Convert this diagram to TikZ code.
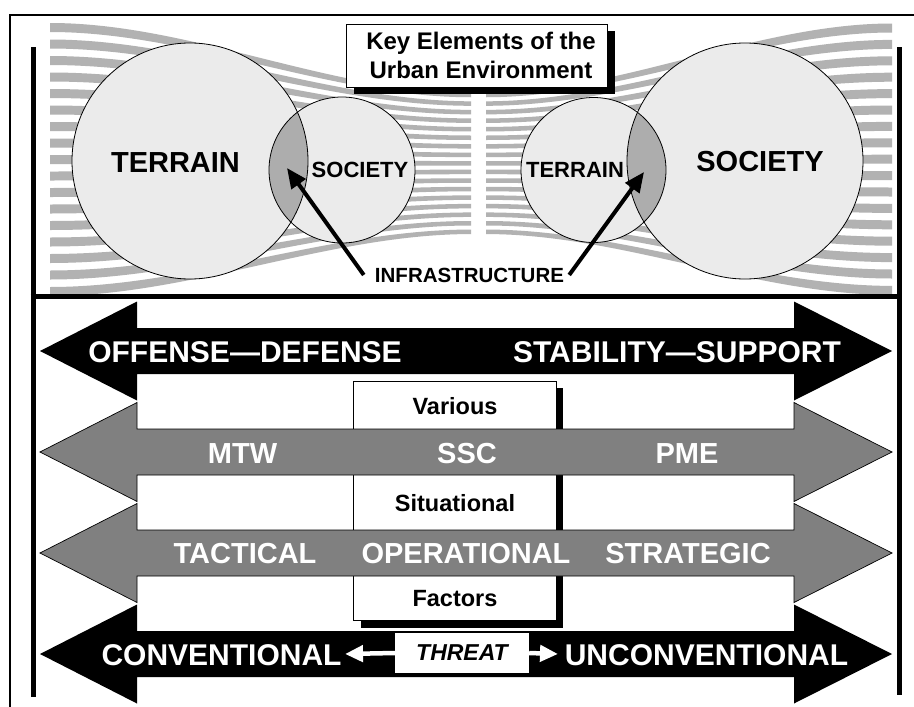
\documentclass[tikz,border=0pt]{standalone}
\usepackage{fontspec}
\setmainfont{Liberation Sans}
\usetikzlibrary{arrows.meta}
\definecolor{stripegray}{gray}{0.70}
\definecolor{circfill}{gray}{0.92}
\definecolor{lensgray}{gray}{0.68}
\definecolor{arrgray}{gray}{0.50}
\newcommand{\BigDblArrow}[2]{\path[#2] (40,#1) -- (137,#1-49.5) -- (137,#1-23) -- (794,#1-23) -- (794,#1-49.5) -- (892,#1) -- (794,#1+49.5) -- (794,#1+23) -- (137,#1+23) -- (137,#1+49.5) -- cycle;}
\begin{document}
\begin{tikzpicture}[x=1pt,y=-1pt,
  arrtxt/.style={text=white, font=\bfseries\fontsize{29}{34}\selectfont, inner sep=0pt, anchor=base},
  bigtxt/.style={text=white, font=\bfseries\fontsize{30}{35}\selectfont, inner sep=0pt, anchor=base},
  boxtxt/.style={text=black, font=\bfseries\fontsize{23.5}{28}\selectfont, inner sep=0pt, anchor=base},
  circtxt/.style={text=black, font=\bfseries\fontsize{29}{34}\selectfont, inner sep=0pt, anchor=base},
  smcirctxt/.style={text=black, font=\bfseries\fontsize{22}{26}\selectfont, inner sep=0pt, anchor=base},
  blackarr/.style={fill=black},
  grayarr/.style={fill=arrgray, draw=black, line width=0.7pt},
  infarrow/.style={line width=4pt, -{Triangle[length=20pt,width=17pt]}},
  whitearrow/.style={white, line width=4.5pt, -{Triangle[length=18pt,width=16pt]}},
  thickline/.style={line width=5pt}
]
\useasboundingbox (0,0) rectangle (914,707);
\fill[white] (0,0) rectangle (914,707);

% converging stripes
\foreach \i in {0,...,16}{
  \pgfmathsetmacro\yL{27.5+16.5*\i}
  \pgfmathsetmacro\yC{95+8.55*\i}
  \pgfmathsetmacro\yR{28+16.4*\i}
  \fill[stripegray] (50,\yL-4.5) .. controls (190,\yL-4.5) and (330,\yC-2.25) .. (471,\yC-2.25) -- (471,\yC+2.25) .. controls (330,\yC+2.25) and (190,\yL+4.5) .. (50,\yL+4.5) -- cycle;
  \fill[stripegray] (486,\yC-2.25) .. controls (621,\yC-2.25) and (757,\yR-4.5) .. (892,\yR-4.5) -- (892,\yR+4.5) .. controls (757,\yR+4.5) and (621,\yC+2.25) .. (486,\yC+2.25) -- cycle;
}

% frame lines
\draw[line width=2pt] (10,707) -- (10,15) -- (914,15);
\draw[thickline] (33,47) -- (33,697);
\draw[thickline] (899.5,47) -- (899.5,695);
\draw[thickline] (30.5,296) -- (902,296);

% title box
\fill[black] (354,31) rectangle (615,94);
\node[draw=black, fill=white, line width=0.8pt, minimum width=261, minimum height=63, inner sep=0pt] (titlebox) at (476.5,55.5) {};
\node[font=\bfseries\fontsize{24}{29}\selectfont, align=center, inner sep=0pt] (title) at (481,55.5) {Key Elements of the\\Urban Environment};

% circles
\fill[circfill] (190,161) circle (118);
\fill[circfill] (342,170) circle (73);
\fill[circfill] (593.5,170) circle (72.5);
\fill[circfill] (745,161) circle (118);
\begin{scope}
  \clip (190,161) circle (118);
  \fill[lensgray] (342,170) circle (73);
\end{scope}
\begin{scope}
  \clip (745,161) circle (118);
  \fill[lensgray] (593.5,170) circle (72.5);
\end{scope}
\draw[line width=0.8pt] (190,161) circle (118);
\draw[line width=0.8pt] (342,170) circle (73);
\draw[line width=0.8pt] (593.5,170) circle (72.5);
\draw[line width=0.8pt] (745,161) circle (118);

\node[circtxt] (terrainL) at (175.5,172) {TERRAIN};
\node[smcirctxt] (societyL) at (360,177) {SOCIETY};
\node[smcirctxt] (terrainR) at (575,177) {TERRAIN};
\node[circtxt] (societyR) at (760,171) {SOCIETY};

\node[font=\bfseries\fontsize{20.5}{24}\selectfont, inner sep=0pt, anchor=base] (infra) at (469.5,282) {INFRASTRUCTURE};
\coordinate (lensL) at (287,168);
\coordinate (lensR) at (644,172);
\draw[infarrow] ([xshift=-11pt]infra.west) -- (lensL);
\draw[infarrow] ([xshift=5pt]infra.east) -- (lensR);

% middle box with shadow
\fill[black] (361,388) rectangle (563,628);
\node[draw=black, fill=white, line width=0.8pt, minimum width=203, minimum height=239, inner sep=0pt] (midbox) at (454.5,500.5) {};

% big arrows
\BigDblArrow{351}{blackarr}
\BigDblArrow{452}{grayarr}
\BigDblArrow{553}{grayarr}
\BigDblArrow{654}{blackarr}

% texts on arrows
\node[bigtxt] (offense) at (245,362) {OFFENSE—DEFENSE};
\node[bigtxt] (stability) at (677,362) {STABILITY—SUPPORT};
\node[arrtxt] (mtw) at (242.5,463) {MTW};
\node[arrtxt] (ssc) at (467,463) {SSC};
\node[arrtxt] (pme) at (687,463) {PME};
\node[arrtxt] (tactical) at (245,563.5) {TACTICAL};
\node[arrtxt] (operational) at (466,563.5) {OPERATIONAL};
\node[arrtxt] (strategic) at (688,563.5) {STRATEGIC};
\node[bigtxt] (conv) at (221.5,665) {CONVENTIONAL};
\node[bigtxt] (unconv) at (706.5,665) {UNCONVENTIONAL};

% box texts
\node[boxtxt] (various) at (455,414) {Various};
\node[boxtxt] (situational) at (455,511) {Situational};
\node[boxtxt] (factors) at (455,606) {Factors};

% threat
\node[fill=white, minimum width=134, minimum height=40, inner sep=0pt, font=\bfseries\itshape\fontsize{23}{27}\selectfont] (threat) at (462,653) {THREAT};
\coordinate (threatL) at (345,654);
\coordinate (threatR) at (558,654);
\draw[whitearrow] (threat.west) -- (threatL);
\draw[whitearrow] (threat.east) -- (threatR);
\end{tikzpicture}
\end{document}
